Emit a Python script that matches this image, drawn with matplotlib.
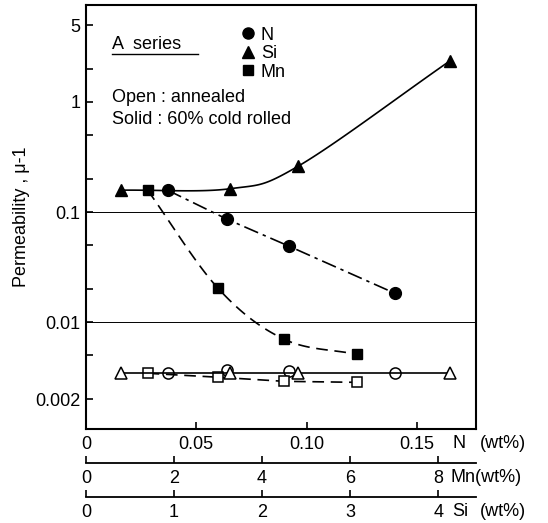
import numpy as np
import matplotlib
matplotlib.use('Agg')
import matplotlib.pyplot as plt
from matplotlib.lines import Line2D

# solid = 60% cold rolled, open = annealed
n_wt = [0.037, 0.064, 0.092, 0.140]
n_solid = [0.158, 0.086, 0.049, 0.0183]
n_open = [0.00343, 0.00365, 0.00357, 0.00343]

si_wt = [0.40, 1.64, 2.41, 4.13]
si_solid = [0.158, 0.163, 0.261, 2.35]
si_open = [0.00343, 0.00343, 0.00343, 0.00343]

mn_wt = [1.40, 3.00, 4.50, 6.15]
mn_solid = [0.158, 0.0203, 0.0070, 0.0051]
mn_open = [0.00343, 0.00316, 0.00290, 0.00284]

y_ticks = [5, 1, 0.1, 0.01, 0.002]
y_ticklabels = ['5', '1', '0.1', '0.01', '0.002']
y_minor = [2, 0.5, 0.2, 0.05, 0.02, 0.005]
n_ticks = [0, 0.05, 0.10, 0.15]
n_ticklabels = ['0', '0.05', '0.10', '0.15']
mn_ticks = [0, 2, 4, 6, 8]
si_ticks = [0, 1, 2, 3, 4]


def smooth(x, y, n=40):
    # catmull-rom through the points, in log y
    P = np.column_stack([np.asarray(x, float), np.log10(y)])
    P = np.vstack([2 * P[0] - P[1], P, 2 * P[-1] - P[-2]])
    t = np.linspace(0, 1, n)[:, None]
    out = []
    for i in range(1, len(P) - 2):
        p0, p1, p2, p3 = P[i - 1], P[i], P[i + 1], P[i + 2]
        out.append(0.5 * (2 * p1 + (-p0 + p2) * t + (2 * p0 - 5 * p1 + 4 * p2 - p3) * t ** 2
                          + (-p0 + 3 * p1 - 3 * p2 + p3) * t ** 3))
    pts = np.vstack(out)
    return pts[:, 0], 10 ** pts[:, 1]


plt.rcParams['font.family'] = ['Liberation Sans', 'DejaVu Sans']
fig = plt.figure(figsize=(5.48, 5.23), dpi=100)
ax = fig.add_axes([86 / 548, 1 - 429 / 523, 390 / 548, 424 / 523])
ax.set_yscale('log')
ax.set_xlim(0, 0.1768)

ax_mn = ax.twiny()
ax_mn.set_xlim(0, 8.86)
ax_si = ax.twiny()
ax_si.set_xlim(0, 4.43)

lw = 1.2
ax.axhline(0.1, color='k', lw=0.7)
ax.axhline(0.01, color='k', lw=0.7)

# Si
sx, sy = smooth(si_wt, si_solid)
ax_si.plot(sx, sy, color='k', lw=lw)
ax_si.plot(si_wt, si_solid, '^', color='k', ms=8)
ax_si.plot(si_wt, si_open, '-^', color='k', lw=lw, ms=8, mfc='white', mew=1.1)

# Mn
mx, my = smooth(mn_wt, mn_solid)
ax_mn.plot(mx, my, color='k', lw=lw, dashes=(7, 4))
ax_mn.plot(mn_wt, mn_solid, 's', color='k', ms=7)
ax_mn.plot(mn_wt, mn_open, color='k', lw=lw, dashes=(7, 4))
ax_mn.plot(mn_wt, mn_open, 's', color='k', ms=7, mfc='white', mew=1.1)

# N
ax.plot(n_wt, n_solid, color='k', lw=lw, dashes=(9, 3, 2, 3))
ax.plot(n_wt, n_solid, 'o', color='k', ms=8.5)
ax.plot(n_wt, n_open, 'o', color='k', ms=8, mfc='white', mew=1.1)

for a, ticks, off in [(ax_mn, mn_ticks, 34), (ax_si, si_ticks, 68)]:
    a.xaxis.set_ticks_position('bottom')
    a.xaxis.set_label_position('bottom')
    for k in ['top', 'left', 'right']:
        a.spines[k].set_visible(False)
    a.spines['bottom'].set_position(('outward', off * 72 / 100))
    a.spines['bottom'].set_linewidth(1.3)
    a.set_xticks(ticks)
    a.set_xticklabels([str(t) for t in ticks])
    a.tick_params(axis='x', direction='in', length=5, width=1.2, labelsize=13, pad=5)

ax.set_ylim(0.00107, 7.6)
ax.set_yticks(y_ticks)
ax.set_yticklabels(y_ticklabels)
ax.set_yticks(y_minor, minor=True)
ax.yaxis.set_minor_formatter(plt.NullFormatter())
ax.tick_params(axis='y', which='both', direction='in', length=5, width=1.2, labelsize=13, pad=4)
ax.set_xticks(n_ticks)
ax.set_xticklabels(n_ticklabels)
ax.tick_params(axis='x', direction='in', length=5, width=1.2, labelsize=13, pad=5)
for s in ax.spines.values():
    s.set_linewidth(1.5)

fig.text(453 / 548, 1 - 443 / 523, 'N', fontsize=13, va='center')
fig.text(480 / 548, 1 - 443 / 523, '(wt%)', fontsize=13, va='center')
fig.text(450 / 548, 1 - 477 / 523, 'Mn(wt%)', fontsize=13, va='center')
fig.text(452 / 548, 1 - 511 / 523, 'Si', fontsize=13, va='center')
fig.text(480 / 548, 1 - 511 / 523, '(wt%)', fontsize=13, va='center')

ax.set_ylabel('Permeability , μ-1', fontsize=13, labelpad=4)

ax.text(0.067, 0.906, 'A  series', transform=ax.transAxes, fontsize=13, va='center')
ax.add_line(Line2D([0.067, 0.287], [0.884, 0.884], transform=ax.transAxes, color='k', lw=1))
handles = [Line2D([], [], ls='none', marker='o', color='k', ms=8),
           Line2D([], [], ls='none', marker='^', color='k', ms=8),
           Line2D([], [], ls='none', marker='s', color='k', ms=7)]
ax.legend(handles, ['N', 'Si', 'Mn'], loc='upper left', bbox_to_anchor=(0.37, 0.966),
          frameon=False, fontsize=13, handletextpad=0.1, labelspacing=0.08,
          handlelength=1.2, borderaxespad=0)
ax.text(0.067, 0.783, 'Open : annealed', transform=ax.transAxes, fontsize=13, va='center')
ax.text(0.067, 0.729, 'Solid : 60% cold rolled', transform=ax.transAxes, fontsize=13, va='center')

fig.savefig('out.png', dpi=100)
